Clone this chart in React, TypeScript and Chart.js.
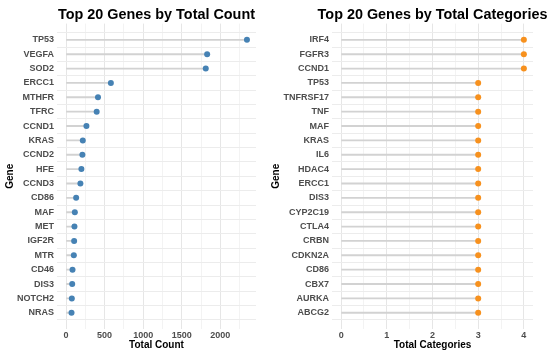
import React, { useEffect, useRef } from "react";
import { Chart, registerables } from "chart.js";

Chart.register(...registerables);

const countGenes = ["TP53", "VEGFA", "SOD2", "ERCC1", "MTHFR", "TFRC", "CCND1", "KRAS", "CCND2", "HFE", "CCND3", "CD86", "MAF", "MET", "IGF2R", "MTR", "CD46", "DIS3", "NOTCH2", "NRAS"];
const countValues = [2345, 1829, 1811, 581, 414, 397, 264, 217, 212, 199, 186, 131, 114, 109, 105, 101, 84, 80, 75, 71];
const countTicks = [0, 500, 1000, 1500, 2000];

const catGenes = ["IRF4", "FGFR3", "CCND1", "TP53", "TNFRSF17", "TNF", "MAF", "KRAS", "IL6", "HDAC4", "ERCC1", "DIS3", "CYP2C19", "CTLA4", "CRBN", "CDKN2A", "CD86", "CBX7", "AURKA", "ABCG2"];
const catValues = [4, 4, 4, 3, 3, 3, 3, 3, 3, 3, 3, 3, 3, 3, 3, 3, 3, 3, 3, 3];
const catTicks = [0, 1, 2, 3, 4];

const FONT = "'Liberation Sans', Arial, Helvetica, sans-serif";

const panelTitle = {
  id: "panelTitle",
  afterDraw(chart: any, _args: any, opts: any) {
    const { ctx, chartArea } = chart;
    ctx.save();
    ctx.fillStyle = "#000000";
    ctx.font = `bold ${opts.size}px ${FONT}`;
    ctx.textAlign = "center";
    ctx.textBaseline = "middle";
    ctx.fillText(opts.text, (chartArea.left + chartArea.right) / 2, opts.y);
    ctx.restore();
  },
};

function makeConfig(title: string, xTitle: string, genes: string[], values: number[], majors: number[], color: string, yWidth: number, padRight: number) {
  const maxV = Math.max(...values);
  const xMin = -0.05 * maxV;
  const xMax = 1.05 * maxV;
  const step = majors[1] - majors[0];
  const allTicks: number[] = [];
  for (let v = majors[0]; v <= xMax; v += step / 2) allTicks.push(v);
  const n = genes.length;
  return {
    type: "bar" as const,
    data: {
      datasets: [
        {
          type: "bar" as const,
          data: values.map((v, i) => ({ x: v, y: i })),
          backgroundColor: "#d2d2d2",
          borderWidth: 0,
          barThickness: 1.2,
          order: 2,
        },
        {
          type: "scatter" as const,
          data: values.map((v, i) => ({ x: v, y: i })),
          backgroundColor: color,
          borderColor: color,
          pointRadius: 3,
          pointBorderWidth: 0,
          order: 1,
        },
      ],
    },
    plugins: [panelTitle],
    options: {
      responsive: false,
      animation: false as const,
      indexAxis: "y" as const,
      layout: { padding: { left: 0, right: padRight, top: 23.6, bottom: 0 } },
      plugins: {
        legend: { display: false },
        tooltip: { enabled: false },
        title: { display: false },
        panelTitle: { text: title, size: 14.4, y: 14.6 },
      },
      scales: {
        x: {
          type: "linear" as const,
          min: xMin,
          max: xMax,
          afterBuildTicks: (s: any) => {
            s.ticks = allTicks.map((v) => ({ value: v }));
          },
          afterFit: (s: any) => {
            s.height = 25;
          },
          grid: {
            drawTicks: false,
            color: (ctx: any) => {
              const v = ctx.tick ? ctx.tick.value : 0;
              return majors.includes(v) ? "#e6e6e6" : "#f3f3f3";
            },
            lineWidth: 1,
          },
          border: { display: false },
          ticks: {
            padding: 1,
            autoSkip: false,
            maxRotation: 0,
            color: "#4d4d4d",
            font: { family: FONT, size: 9, weight: "bold" as const },
            callback: (v: any) => (majors.includes(Number(v)) ? String(v) : ""),
          },
          title: {
            display: true,
            text: xTitle,
            color: "#000000",
            font: { family: FONT, size: 10, weight: "bold" as const },
            padding: { top: 0, bottom: 3 },
          },
        },
        y: {
          type: "linear" as const,
          reverse: true,
          min: -0.6,
          max: n - 1 + 0.6,
          afterBuildTicks: (s: any) => {
            s.ticks = genes.map((_, i) => ({ value: i }));
          },
          afterFit: (s: any) => {
            s.width = yWidth;
          },
          grid: { drawTicks: false, color: "#ececec", lineWidth: 1 },
          border: { display: false },
          ticks: {
            padding: 3,
            autoSkip: false,
            color: "#4d4d4d",
            font: { family: FONT, size: 9, weight: "bold" as const },
            callback: (v: any) => genes[Number(v)] ?? "",
          },
          title: {
            display: true,
            text: "Gene",
            color: "#000000",
            font: { family: FONT, size: 10, weight: "bold" as const },
            padding: { top: 4, bottom: 0 },
          },
        },
      },
    },
  };
}

function ChartPanel(props: { left: number; width: number; config: any }) {
  const ref = useRef<HTMLCanvasElement | null>(null);
  useEffect(() => {
    if (!ref.current) return;
    const chart = new Chart(ref.current, props.config);
    return () => chart.destroy();
  }, []);
  return (
    <canvas
      ref={ref}
      width={props.width}
      height={354}
      style={{ position: "absolute", left: props.left, top: 0, width: props.width, height: 354 }}
    />
  );
}

export default function App() {
  const leftCfg = makeConfig("Top 20 Genes by Total Count", "Total Count", countGenes, countValues, countTicks, "#4682B4", 57, 10);
  const rightCfg = makeConfig("Top 20 Genes by Total Categories", "Total Categories", catGenes, catValues, catTicks, "#F7911E", 66, 17);
  return (
    <div style={{ position: "fixed", left: 0, top: 0, width: 550, height: 354, background: "#ffffff", overflow: "hidden" }}>
      <ChartPanel left={0} width={266} config={leftCfg} />
      <ChartPanel left={266} width={284} config={rightCfg} />
    </div>
  );
}
